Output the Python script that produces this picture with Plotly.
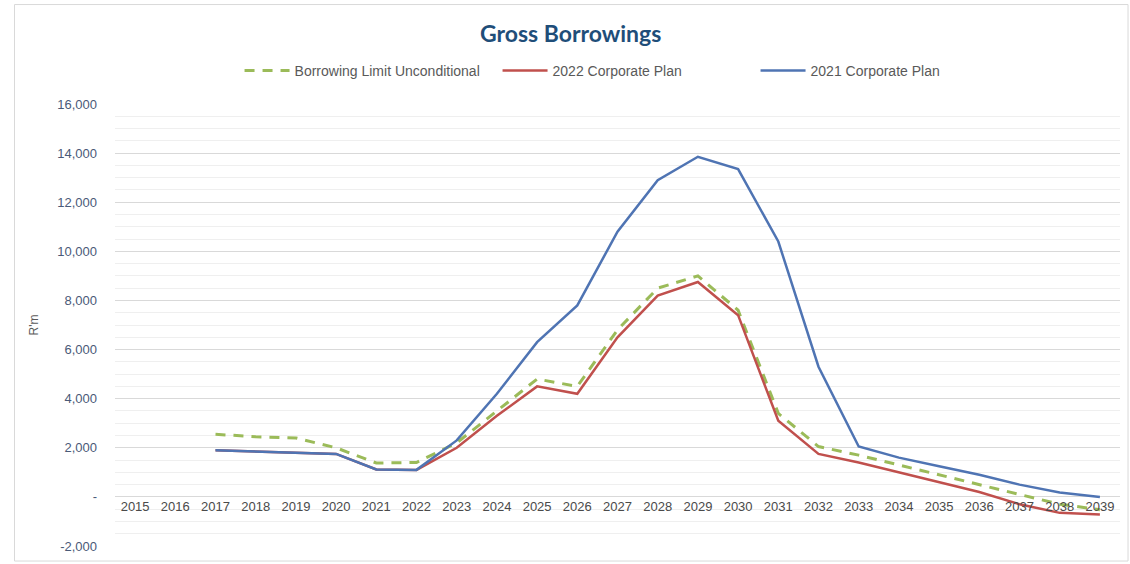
import plotly.graph_objects as go

years = list(range(2015, 2040))
tick_labels = [str(y) for y in years]

limit_years = list(range(2017, 2040))
borrowing_limit = [2550, 2450, 2400, 2000, 1380, 1400, 2200, 3500, 4800, 4500, 6800, 8500,
                   9000, 7600, 3400, 2050, 1700, 1300, 900, 500, 100, -300, -520]

plan_2022 = [1900, 1850, 1780, 1750, 1120, 1100, 2000, 3300, 4500, 4200, 6500, 8200,
             8750, 7400, 3100, 1750, 1400, 1000, 600, 200, -300, -650, -720]

plan_2021 = [1900, 1850, 1780, 1750, 1120, 1100, 2300, 4200, 6300, 7800, 10800, 12900,
             13850, 13350, 10400, 5300, 2050, 1600, 1250, 900, 500, 180, 0]

y_ticks = list(range(-2000, 16001, 2000))
y_tick_text = ["-" if v == 0 else f"{v:,}" for v in y_ticks]

fig = go.Figure()
fig.add_trace(go.Scatter(x=limit_years, y=borrowing_limit, mode="lines",
                         name="Borrowing Limit Unconditional",
                         line=dict(color="#9BBB59", width=3, dash="10px,8px")))
fig.add_trace(go.Scatter(x=limit_years, y=plan_2022, mode="lines",
                         name="2022 Corporate Plan",
                         line=dict(color="#C0504D", width=2.5)))
fig.add_trace(go.Scatter(x=limit_years, y=plan_2021, mode="lines",
                         name="2021 Corporate Plan",
                         line=dict(color="#4F74B3", width=2.5)))

fig.update_layout(
    width=1130, height=564,
    margin=dict(l=115, r=10, t=104, b=16),
    paper_bgcolor="white", plot_bgcolor="white",
    font=dict(family="Liberation Sans, Arial", size=13, color="#595959"),
    title=dict(text="<b>Gross Borrowings</b>", x=0.505, xanchor="center", y=0.94, yanchor="middle",
               font=dict(family="Lato, Open Sans", size=23, color="#1F4E79")),
    legend=dict(orientation="h", x=0.509, xanchor="center", y=1.075, yanchor="middle",
                font=dict(size=14, color="#595959"), traceorder="normal",
                itemwidth=45, entrywidth=198, entrywidthmode="pixels",
                bgcolor="rgba(0,0,0,0)"),
    showlegend=True,
    xaxis=dict(range=[2014.5, 2039.5], tickmode="array", tickvals=years, ticktext=tick_labels,
               anchor="free", position=2000 / 18000, showgrid=False, zeroline=False,
               showline=False, ticks="", tickfont=dict(size=13, color="#4A4A4A"),
               fixedrange=True),
    yaxis=dict(range=[-2000, 16000], tickmode="array", tickvals=y_ticks, ticktext=y_tick_text,
               showgrid=True, gridcolor="#D9D9D9", gridwidth=1, zeroline=False,
               tickfont=dict(size=13, color="#4A5A78"), ticks="", ticklabelstandoff=17,
               minor=dict(dtick=500, tick0=0, showgrid=True, gridcolor="#EFEFEF", gridwidth=1),
               title=dict(text="R'm", font=dict(size=12, color="#595959"), standoff=16)),
    shapes=[dict(type="rect", xref="paper", yref="paper", x0=-0.1, x1=1.008, y0=-0.034, y1=1.225,
                 line=dict(color="#D9D9D9", width=1), fillcolor="rgba(0,0,0,0)", layer="below")],
)

fig.write_html("out.html")
